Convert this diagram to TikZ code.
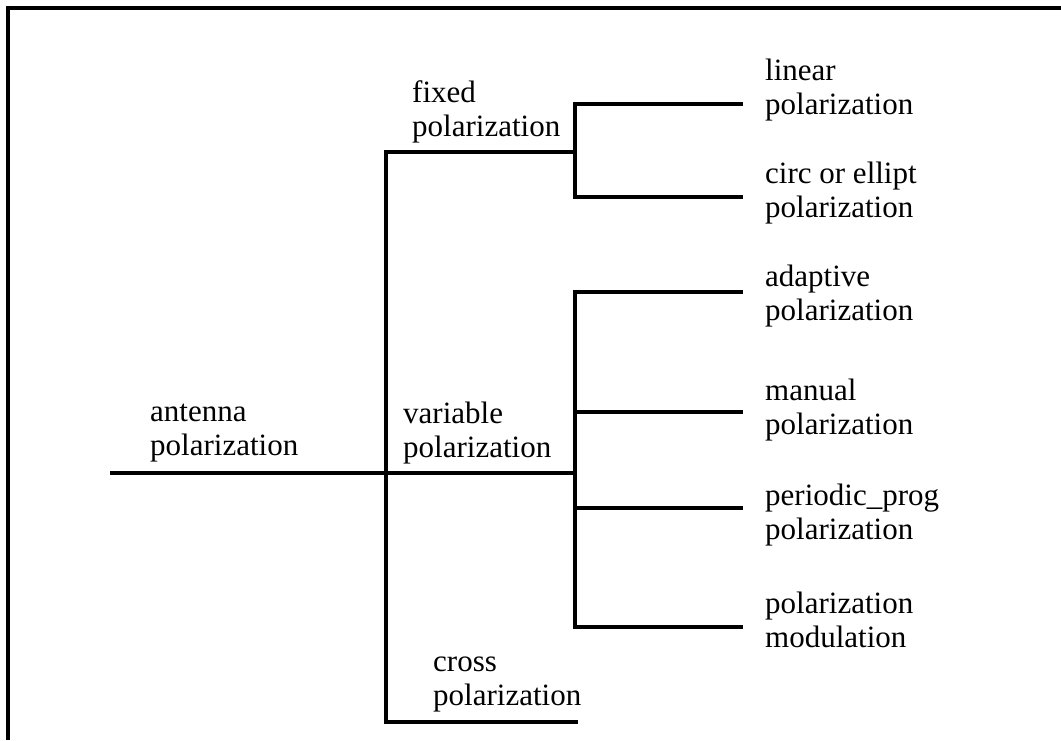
\documentclass[tikz,border=0pt]{standalone}
\usepackage{fontspec}
\setmainfont{Liberation Serif}
\usepackage{tikz}
\usetikzlibrary{positioning}
\tikzset{
    txt/.style = {anchor=west, align=left, inner sep=0pt, font=\fontsize{31}{34}\selectfont},
    treeline/.style = {line width=4.5pt, line join=miter},
    frameline/.style = {line width=3.5pt}
}

\begin{document}
\begin{tikzpicture}[x=1pt, y=-1pt]
\useasboundingbox (0,0) rectangle (1061,740);
\draw[frameline] (8,740) -- (8,8) -- (1061,8);
\node[txt] at (150,433) (ant) {antenna\\polarization};
\node[txt] at (412,112) (fix) {fixed\\polarization};
\node[txt] at (403,433) (var) {variable\\polarization};
\node[txt] at (433,684) (crs) {cross\\polarization};
\node[txt] at (765,90) (lin) {linear\\polarization};
\node[txt] at (765,193) (cir) {circ or ellipt\\polarization};
\node[txt] at (765,296) (ada) {adaptive\\polarization};
\node[txt] at (765,410) (man) {manual\\polarization};
\node[txt] at (765,515) (per) {periodic\_prog\\polarization};
\node[txt] at (765,620) (mod) {polarization\\modulation};
\coordinate (r0) at (110,473);
\coordinate (b1) at (386,152);
\coordinate (b3) at (386,722);
\coordinate (f0) at (575,152);
\coordinate (v0) at (575,473);
\coordinate (c0) at (578,722);
\coordinate (f1) at (575,104);
\coordinate (f2) at (575,197);
\coordinate (linend) at (743,104);
\coordinate (cirend) at (743,197);
\coordinate (v1) at (575,292);
\coordinate (v2) at (575,412);
\coordinate (v3) at (575,508);
\coordinate (v4) at (575,627);
\coordinate (adaend) at (743,292);
\coordinate (manend) at (743,412);
\coordinate (perend) at (743,508);
\coordinate (modend) at (743,627);
\draw[treeline] (c0) -- (b3) -- (b1) -- (f0);
\draw[treeline] (r0) -- (v0);
\draw[treeline] (linend) -- (f1) -- (f2) -- (cirend);
\draw[treeline] (adaend) -- (v1) -- (v4) -- (modend);
\draw[treeline] (v2) -- (manend);
\draw[treeline] (v3) -- (perend);
\end{tikzpicture}
\end{document}
